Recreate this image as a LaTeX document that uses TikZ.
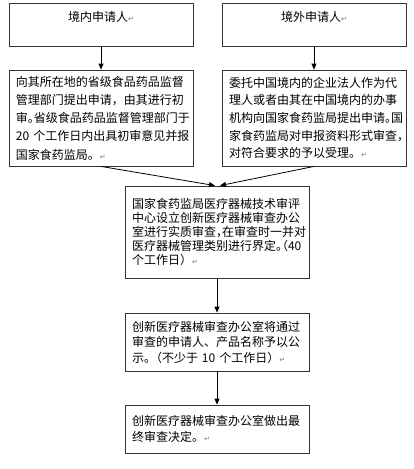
\documentclass[tikz,border=0pt]{standalone}
\usepackage{fontspec}
\usepackage{tikz}
\usetikzlibrary{positioning,arrows.meta}
\newfontfamily\cjk{Noto Sans CJK SC}
\newfontfamily\symfont{DejaVu Sans}
\newcommand\ret{{\symfont\fontsize{7}{7}\selectfont\color{black!55}↵}}
\newcommand\hp[1]{\makebox[.5em][l]{#1}}
\newcommand\hq[1]{\makebox[.5em][r]{#1}}

\begin{document}
\begin{tikzpicture}[x=1pt,y=-1pt,
  every node/.style={font=\cjk\fontsize{12}{17}\selectfont},
  stage/.style={draw=black!80, line width=0.8pt, minimum width=184pt, inner xsep=7pt, text width=170pt, align=left},
  flow/.style={line width=0.8pt, -{Triangle[length=6pt,width=5pt]}}]
  \useasboundingbox (0,0) rectangle (414,469);
  \node[stage, align=center, minimum height=43pt] (home) at (101,24.5) {境内申请人\ret\\~};
  \node[stage, align=center, minimum height=43pt] (abroad) at (314,24.5) {境外申请人\ret\\~};
  \node[stage, minimum height=96pt, font=\cjk\fontsize{12}{18.3}\selectfont] (province) at (101,118)
    {向其所在地的省级食品药品监督\\管理部门提出申请，由其进行初\\审\hp{。}省级食品药品监督管理部门于\\20~个工作日内出具初审意见并报\\国家食药监局。\ret};
  \node[stage, minimum height=96pt, font=\cjk\fontsize{12}{17.6}\selectfont] (agent) at (314,118)
    {委托中国境内的企业法人作为代\\理人或者由其在中国境内的办事\\机构向国家食药监局提出申请\hp{。}国\\家食药监局对申报资料形式审查，\\对符合要求的予以受理。\ret};
  \node[stage, minimum height=92pt, font=\cjk\fontsize{12}{13.8}\selectfont] (review) at (217,232)
    {国家食药监局医疗器械技术审评\\中心设立创新医疗器械审查办公\\室进行实质审查\hp{，}在审查时一并对\\医疗器械管理类别进行界定\hp{。}\hq{（}40\\个工作日）\ret};
  \node[stage, minimum height=58pt, font=\cjk\fontsize{12}{15.5}\selectfont] (notice) at (217,342)
    {创新医疗器械审查办公室将通过\\审查的申请人、产品名称予以公\\示\hp{。}（不少于~10~个工作日）\ret};
  \node[stage, minimum height=48pt, font=\cjk\fontsize{12}{16.7}\selectfont] (decision) at (217,429)
    {创新医疗器械审查办公室做出最\\终审查决定。\ret};
  \coordinate (inL) at ([xshift=-2pt]review.north);
  \coordinate (inR) at ([xshift=3pt]review.north);
  % arrows
  \draw[flow] (home) -- (province);
  \draw[flow] (abroad) -- (agent);
  \draw[flow] (province.south) -- (inL);
  \draw[flow] (agent.south) -- (inR);
  \draw[flow] (review) -- (notice);
  \draw[flow] (notice) -- (decision);
\end{tikzpicture}
\end{document}
